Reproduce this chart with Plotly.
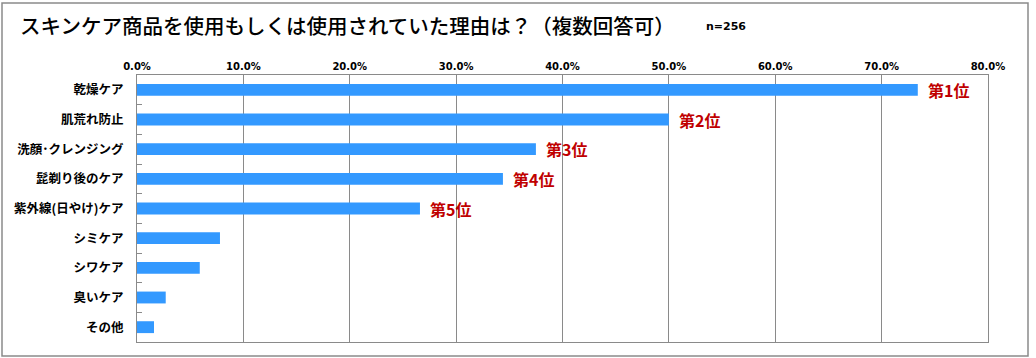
import plotly.graph_objects as go

categories = ["乾燥ケア", "肌荒れ防止", "洗顔･クレンジング", "髭剃り後のケア", "紫外線(日やけ)ケア",
              "シミケア", "シワケア", "臭いケア", "その他"]
values = [73.4, 50.0, 37.5, 34.4, 26.6, 7.8, 5.9, 2.7, 1.6]
rank_labels = ["第1位", "第2位", "第3位", "第4位", "第5位", "", "", "", ""]
tick_vals = [0, 10, 20, 30, 40, 50, 60, 70, 80]
tick_text = ["0.0%", "10.0%", "20.0%", "30.0%", "40.0%", "50.0%", "60.0%", "70.0%", "80.0%"]
title_text = "スキンケア商品を使用もしくは使用されていた理由は？（複数回答可）"
n_text = "n=256"

JP = "Noto Sans CJK JP"

fig = go.Figure(go.Bar(
    x=values, y=categories, orientation="h",
    marker=dict(color="rgb(51,153,255)", line=dict(width=0)),
    width=0.4, hoverinfo="skip",
))

for c, v, t in zip(categories, values, rank_labels):
    if t:
        fig.add_annotation(x=v, y=c, text=t, xanchor="left", yanchor="middle",
                           xshift=8, showarrow=False,
                           font=dict(family=JP, size=16, color="#C00000", weight="bold"))

W, H = 1036, 358
L, R, T, B = 137, 48, 75, 16
pw, ph = W - L - R, H - T - B

def px(x):
    return (x - L) / pw

def py(y):
    return (H - B - y) / ph

# outer frame
fig.add_shape(type="rect", xref="paper", yref="paper",
              x0=px(2), x1=px(1028), y0=py(356), y1=py(3),
              line=dict(color="#8a8a8a", width=1.5), layer="below")

fig.add_annotation(xref="paper", yref="paper", x=px(18), y=py(25), xanchor="left",
                   yanchor="middle", text=title_text, showarrow=False,
                   font=dict(family=JP, size=20.5, color="#000000", weight=500))
fig.add_annotation(xref="paper", yref="paper", x=px(704), y=py(26), xanchor="left",
                   yanchor="middle", text=n_text, showarrow=False,
                   font=dict(family="DejaVu Sans", size=11, color="#000000", weight="bold"))

fig.update_layout(
    width=W, height=H,
    margin=dict(l=L, r=R, t=T, b=B, autoexpand=False),
    paper_bgcolor="white", plot_bgcolor="white",
    showlegend=False,
    bargap=0.6,
)
fig.update_xaxes(
    side="top", range=[0, 80], tickvals=tick_vals, ticktext=tick_text,
    showgrid=True, gridcolor="#8a8a8a", gridwidth=1,
    showline=True, linecolor="#8a8a8a", linewidth=1, mirror=True,
    zeroline=False, ticks="", automargin=False,
    tickfont=dict(family="DejaVu Sans", size=10, color="#000000", weight="bold"),
    fixedrange=True,
)
fig.update_yaxes(
    categoryorder="array", categoryarray=categories, autorange="reversed",
    showline=True, linecolor="#8a8a8a", linewidth=1, mirror=True,
    showgrid=False, zeroline=False, automargin=False,
    ticks="inside", tickson="boundaries", ticklen=5, tickcolor="#8a8a8a",
    ticklabelstandoff=10,
    tickfont=dict(family=JP, size=12.5, color="#000000", weight="bold"),
    fixedrange=True,
)

fig.write_html("out.html", config={"displayModeBar": False},
               post_script="document.body.style.margin='0';document.body.style.overflow='hidden';")
